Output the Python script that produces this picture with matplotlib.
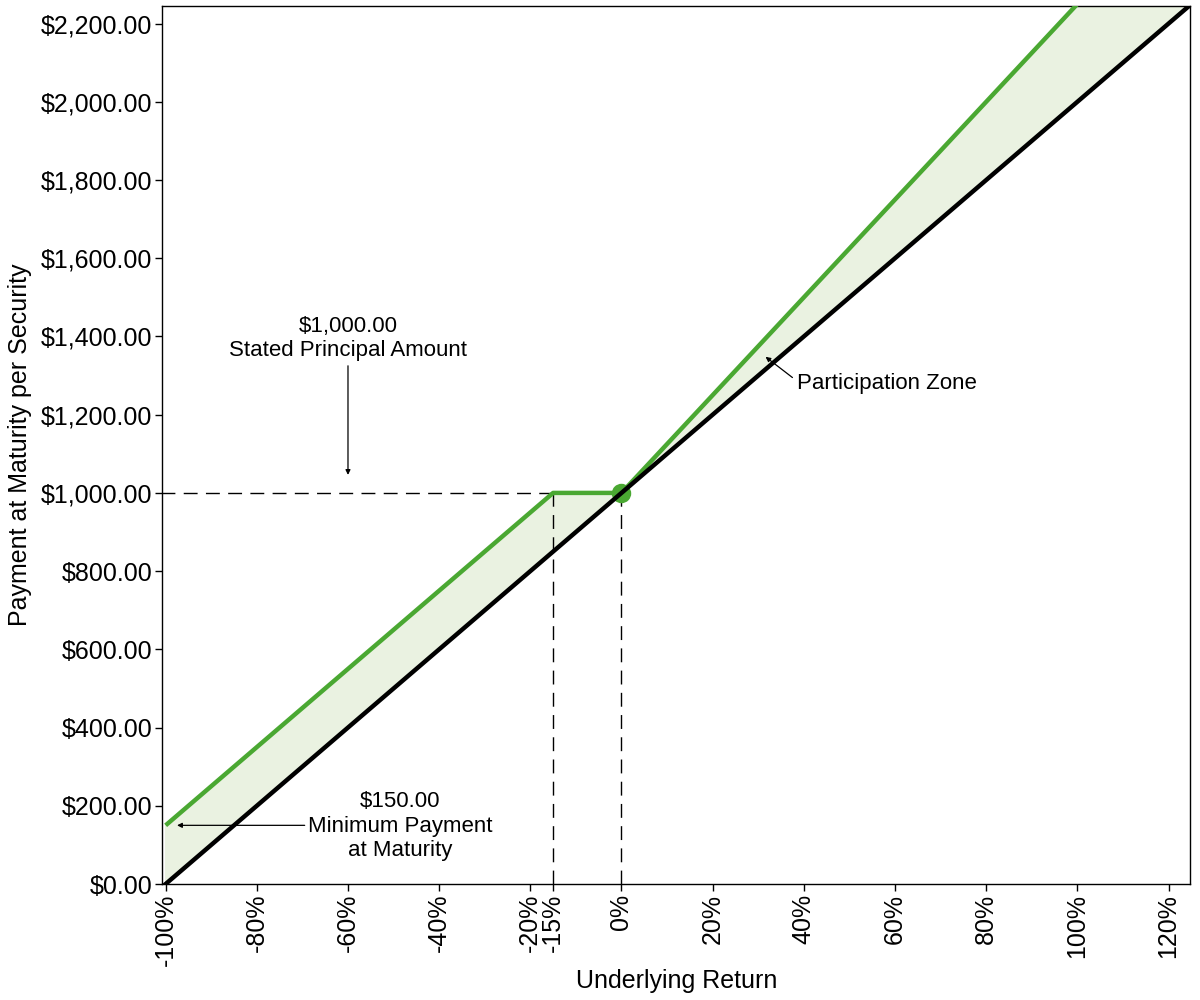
import matplotlib.pyplot as plt
import numpy as np

plt.rcParams['font.family'] = ['Liberation Sans', 'DejaVu Sans']

# underlying return (%) and payment at maturity ($)
returns = [-100, -15, 0, 125]
payment = [150, 1000, 1000, 2562.5]
underlying = [0, 850, 1000, 2250]

tick_vals = [-100, -80, -60, -40, -20, -15, 0, 20, 40, 60, 80, 100, 120]
tick_labels = [f"{v}%" for v in tick_vals]
y_ticks = list(range(0, 2201, 200))

green = '#4aa832'
fill = '#eaf2e1'

fig = plt.figure(figsize=(12, 10), dpi=100)
ax = fig.add_axes([0.135, 0.116, 0.857, 0.878])

ax.fill_between(returns, underlying, payment, color=fill, zorder=1)

# dashed guides
ax.plot([-101, -15], [1000, 1000], color='black', lw=1, dashes=(10, 6), zorder=2)
ax.plot([-15, -15], [0, 1000], color='black', lw=1, dashes=(10, 6), zorder=2)
ax.plot([0, 0], [0, 1000], color='black', lw=1, dashes=(10, 6), zorder=2)

ax.plot(returns, payment, color=green, lw=3.2, zorder=3, solid_capstyle='butt')
ax.plot([0], [1000], marker='o', ms=14, color=green, zorder=3,
        markeredgewidth=0)
ax.plot([returns[0], returns[-1]], [underlying[0], underlying[-1]],
        color='black', lw=3.2, zorder=4)

ax.set_xlim(-100.8, 124.8)
ax.set_ylim(0, 2245)
ax.set_xticks(tick_vals)
ax.set_xticklabels(tick_labels, rotation=90, fontsize=18)
ax.set_yticks(y_ticks)
ax.set_yticklabels([f"${v:,.2f}" for v in y_ticks], fontsize=18)
ax.tick_params(length=5, width=1, pad=2)
for s in ax.spines.values():
    s.set_linewidth(1)

ax.set_xlabel('Underlying Return', fontsize=18, labelpad=2)
ax.set_ylabel('Payment at Maturity per Security', fontsize=18)
ax.yaxis.set_label_coords(-0.126, 0.5)

arrow = dict(arrowstyle='-|>', color='black', lw=0.9, mutation_scale=7,
             shrinkA=0, shrinkB=0)
ax.annotate('', xy=(-60, 1046), xytext=(-60, 1325), arrowprops=arrow)
ax.text(-60, 1395, '$1,000.00\nStated Principal Amount', ha='center',
        va='center', fontsize=16, linespacing=1.2)

ax.annotate('', xy=(31.6, 1348), xytext=(37.5, 1295), arrowprops=arrow)
ax.text(38.5, 1281, 'Participation Zone', ha='left', va='center', fontsize=16)

ax.annotate('', xy=(-97.5, 150), xytext=(-69.5, 150), arrowprops=arrow)
ax.text(-48.5, 148, '$150.00\nMinimum Payment\nat Maturity', ha='center',
        va='center', fontsize=16, linespacing=1.2)

fig.savefig('out.png', dpi=100)
